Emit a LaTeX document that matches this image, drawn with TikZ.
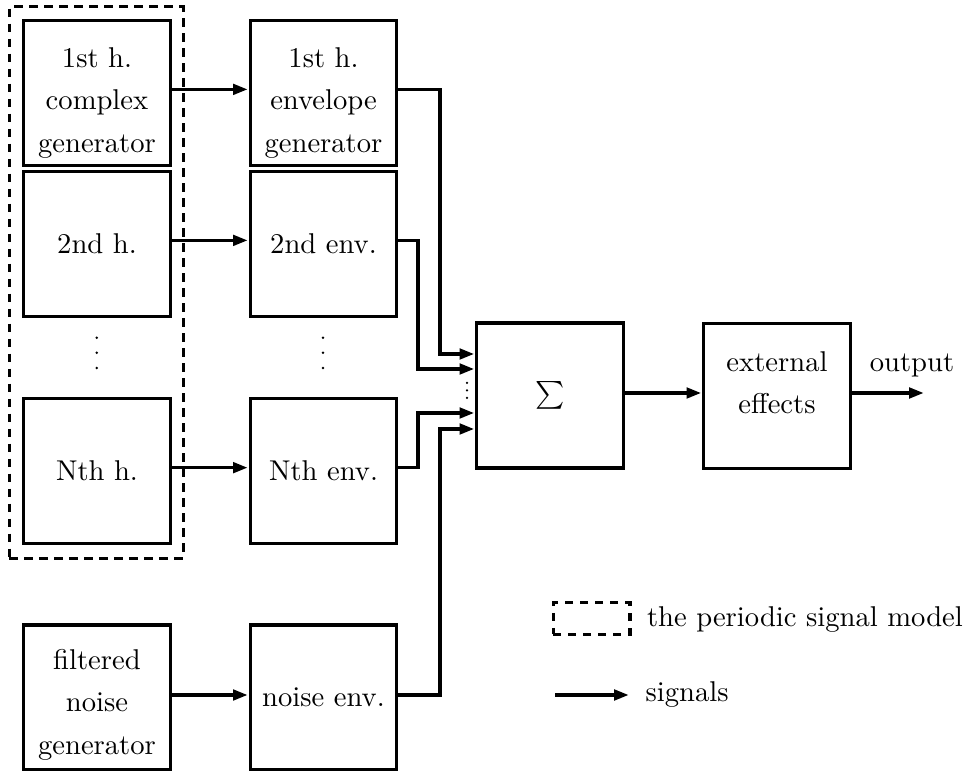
\documentclass[tikz,border=0pt]{standalone}
\usetikzlibrary{arrows.meta}
\begin{document}
\begin{tikzpicture}[x=0.36pt,y=-0.36pt,
  every node/.style={font=\fontsize{10.3pt}{15.2pt}\selectfont},
  blk/.style={draw,line width=1.1pt,minimum width=52.6pt,minimum height=52.2pt,inner sep=0pt,align=center},
  sig/.style={line width=1.1pt,shorten >=0.5pt,-{Triangle[length=5.2pt,width=3.8pt]}},
  dashbox/.style={draw,line width=1.1pt,dash pattern=on 3pt off 2.4pt,inner sep=0pt},
  lbl/.style={align=center,inner sep=0pt},
  dotmark/.style={fill=black},
  ]
\useasboundingbox (0,0) rectangle (967,771);

% first column
\node[blk,label={[lbl,name=g1t,yshift=-3.6pt]center:1st h.\\complex\\generator}] (g1) at (97,93) {};
\node[blk] (g2) at (97,244) {2nd h.};
\node[blk] (gN) at (97,471) {Nth h.};
\node[blk,label={[lbl,name=gnt,yshift=-2.6pt]center:filtered\\noise\\generator}] (gn) at (97,697.5) {};

% second column
\node[blk,label={[lbl,name=e1t,yshift=-3.6pt]center:1st h.\\envelope\\generator}] (e1) at (323.5,93) {};
\node[blk] (e2) at (323.5,244) {2nd env.};
\node[blk] (eN) at (323.5,471) {Nth env.};
\node[blk] (en) at (323.5,697.5) {noise env.};

% sum and effects
\node[blk] (sum) at (550,395.5) {$\sum$};
\node[blk,label={[lbl,name=extt,yshift=4.8pt]center:external\\effects}] (ext) at (777,396) {};

% periodic model frame
\node[dashbox,minimum width=62.5pt,minimum height=198.4pt] (model) at (96.25,282.5) {};

% vertical dots
\foreach \yy in {337.7,352.7,368} {
  \fill[dotmark] (96.7,\yy) circle[radius=0.5pt];
  \fill[dotmark] (323,\yy) circle[radius=0.5pt];
}
\foreach \yy in {383,390.5,398} {
  \fill[dotmark] (467,\yy) circle[radius=0.45pt];
}

% generator -> envelope
\draw[sig] ([yshift=1.3pt]g1.east) -- ([yshift=1.3pt]e1.west);
\draw[sig] ([yshift=1.3pt]g2.east) -- ([yshift=1.3pt]e2.west);
\draw[sig] ([yshift=1.2pt]gN.east) -- ([yshift=1.2pt]eN.west);
\draw[sig] ([yshift=0.9pt]gn.east) -- ([yshift=0.9pt]en.west);

% envelope -> sum
\coordinate (k1) at (440,354);
\coordinate (k2) at (418,369);
\coordinate (k3) at (418,413);
\coordinate (k4) at (440,429);
\draw[sig] ([yshift=1.3pt]e1.east) -| (k1) -- (k1 -| sum.west);
\draw[sig] ([yshift=1.3pt]e2.east) -| (k2) -- (k2 -| sum.west);
\draw[sig] ([yshift=1.2pt]eN.east) -| (k3) -- (k3 -| sum.west);
\draw[sig] ([yshift=0.9pt]en.east) -| (k4) -- (k4 -| sum.west);

% sum -> effects -> output
\coordinate (out) at (925,393);
\draw[sig] (sum.east |- out) -- (ext.west |- out);
\draw[sig] (ext.east |- out) -- (out);
\node[anchor=base,inner sep=0pt] (outl) at (912,372) {output};

% legend
\node[dashbox,minimum width=27.7pt,minimum height=11.2pt] (lgbox) at (591.5,618.5) {};
\node[anchor=west,inner sep=0pt] (lgt) at ([xshift=5.4pt,yshift=-0.5pt]lgbox.east) {the periodic signal model};
\coordinate (sa) at (555,695);
\coordinate (sb) at (630,695);
\draw[sig] (sa) -- (sb);
\node[anchor=west,inner sep=0pt] (sgt) at ([xshift=5.4pt]sb) {signals};
\end{tikzpicture}
\end{document}
